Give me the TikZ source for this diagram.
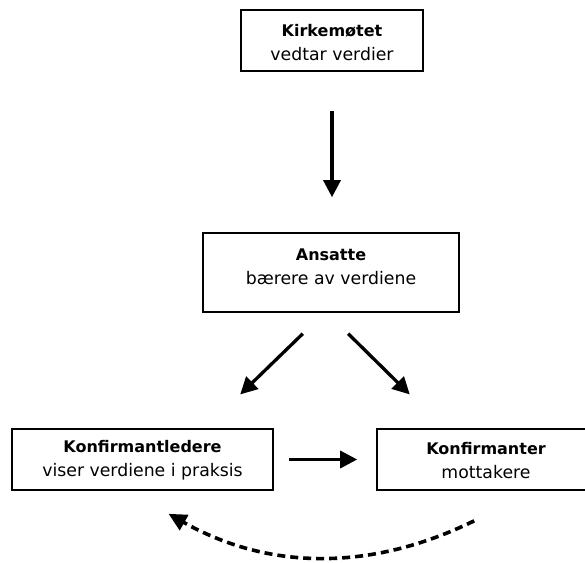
\documentclass[tikz,border=0pt]{standalone}
\usepackage{fontspec}
\setmainfont{DejaVu Sans}
\usetikzlibrary{arrows.meta,calc}
\begin{document}
\begin{tikzpicture}[x=1pt,y=-1pt,
  box/.style={draw=black, line width=1.6pt, rectangle, inner sep=0pt},
  lbl/.style={align=center, inner sep=0pt, font=\fontsize{17.3}{24}\selectfont},
  arr/.style={line width=3.3pt, -{Triangle[length=17pt,width=17pt]}},
  darr/.style={line width=3.6pt, dash pattern=on 8pt off 5pt, -{Triangle[length=18pt,width=17pt]}}]
\useasboundingbox (0,0) rectangle (585,562);
% boxes
\node[box, minimum width=182pt, minimum height=61pt] (kirke) at (332,40.5) {};
\node[box, minimum width=256pt, minimum height=79pt] (ansatte) at (331,272.5) {};
\node[box, minimum width=261pt, minimum height=61pt] (ledere) at (142.5,459.5) {};
\node[box, minimum width=218pt, minimum height=61pt] (konf) at (486,459.5) {};
% texts
\node[lbl] (kirketxt) at ($(kirke.center)+(0,2)$) {{\fontsize{16}{24}\selectfont\bfseries Kirkemøtet}\\vedtar verdier};
\node[lbl] (ansattetxt) at ($(ansatte.center)+(0,-6)$) {{\fontsize{16}{24}\selectfont\bfseries Ansatte}\\bærere av verdiene};
\node[lbl] (ledertxt) at ($(ledere.center)+(0,1)$) {{\fontsize{16}{24}\selectfont\bfseries Konfirmantledere}\\viser verdiene i praksis};
\node[lbl] (konftxt) at ($(konf.center)+(0,1)$) {{\fontsize{16}{24}\selectfont\bfseries Konfirmanter}\\mottakere};
% connectors
\draw[arr, shorten <=39pt, shorten >=35pt] (kirke.south) -- (kirke.south |- ansatte.north);
\draw[arr, shorten <=29.9pt, shorten >=48.5pt] ($(ansatte.south)+(-6.7,0)$) -- ($(ledere.north)+(62.9,0)$);
\draw[arr, shorten <=29.7pt, shorten >=48.1pt] ($(ansatte.south)+(-4,0)$) -- ($(konf.north)+(-42,0)$);
\draw[arr, shorten <=15pt, shorten >=19pt] (ledere.east) -- (ledere.east -| konf.west);
\coordinate (dstart) at ($(konf.south west)+(98,30)$);
\coordinate (dend) at ($(ledere.south)+(26,23)$);
\draw[darr] (dstart) .. controls +(-104.7,51.3) and +(99.3,56) .. (dend);
\end{tikzpicture}
\end{document}
